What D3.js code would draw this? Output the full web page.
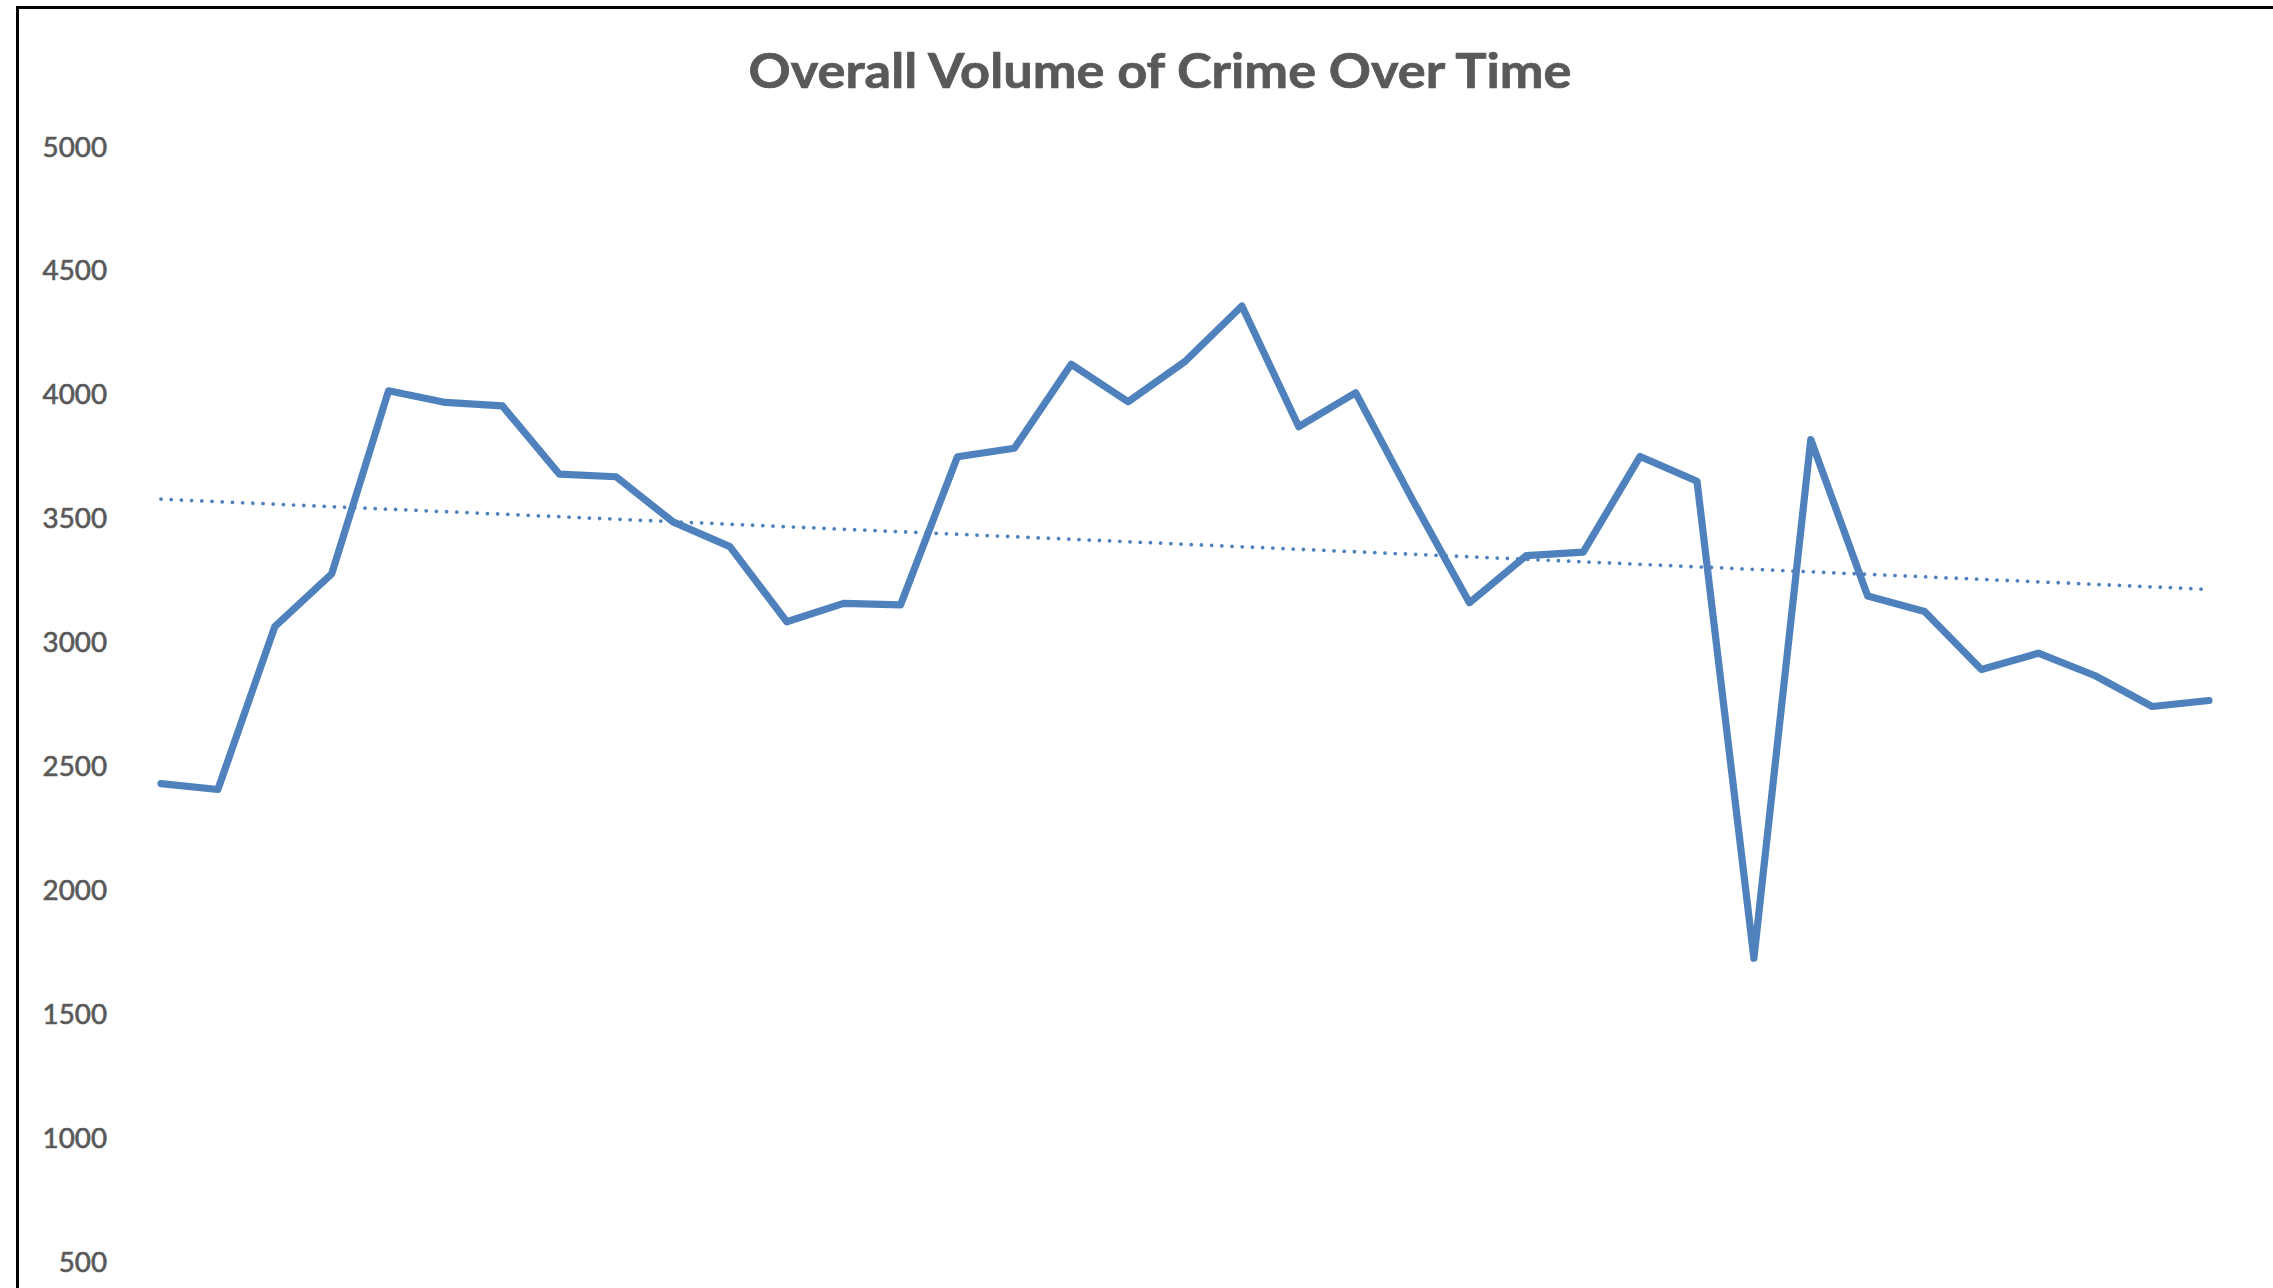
<!DOCTYPE html>
<html>
<head>
<meta charset="utf-8">
<script src="https://cdn.jsdelivr.net/npm/d3@7"></script>
<style>
  html, body { margin: 0; padding: 0; background: #ffffff; }
  svg { display: block; }
</style>
</head>
<body>
<svg id="chart" width="2273" height="1288"></svg>
<script>
// ---- data ----
const title = "Overall Volume of Crime Over Time";
const periods = d3.range(1, 38); // 37 consecutive periods (x axis is not labelled)
const crimeVolume = [
  2430, 2406, 3063, 3276, 4015, 3968, 3954, 3679, 3668, 3486,
  3386, 3083, 3157, 3151, 3749, 3783, 4122, 3971, 4133, 4357,
  3870, 4007, 3575, 3160, 3350, 3364, 3750, 3650, 1725, 3818,
  3187, 3124, 2890, 2956, 2865, 2741, 2765
];
const yTicks = [500, 1000, 1500, 2000, 2500, 3000, 3500, 4000, 4500, 5000];

// ---- layout ----
const W = 2273, H = 1288;
const svg = d3.select("#chart");
svg.append("rect").attr("width", W).attr("height", H).attr("fill", "#ffffff");

// chart frame (extends past the cropped right and bottom edges)
svg.append("rect")
  .attr("x", 17.5).attr("y", 7.5)
  .attr("width", W + 40).attr("height", H + 40)
  .attr("fill", "none").attr("stroke", "#000").attr("stroke-width", 3);

const x = d3.scalePoint().domain(periods).range([161, 2209]);
const y = d3.scaleLinear().domain([0, 5000]).range([1385.7, 146.7]);

// title
svg.append("text")
  .attr("x", 1160).attr("y", 88)
  .attr("text-anchor", "middle")
  .attr("font-family", "Lato, 'Open Sans', 'Liberation Sans', sans-serif")
  .attr("font-weight", "bold")
  .attr("font-size", 48)
  .attr("fill", "#595959")
  .attr("stroke", "#595959")
  .attr("stroke-width", 0.7)
  .attr("textLength", 823)
  .attr("lengthAdjust", "spacingAndGlyphs")
  .text(title);

// y axis (labels only)
const yAxis = d3.axisLeft(y).tickValues(yTicks).tickSize(0).tickPadding(0)
  .tickFormat(d3.format("d"));
const gy = svg.append("g").attr("transform", "translate(107,0)").call(yAxis);
gy.select(".domain").remove();
gy.selectAll("text")
  .attr("font-family", "Lato, 'Open Sans', 'Liberation Sans', sans-serif")
  .attr("font-size", 26)
  .attr("fill", "#595959")
  .attr("stroke", "#595959")
  .attr("stroke-width", 0.6)
  .attr("dy", "0.36em")
  .attr("textLength", d => String(d).length * 16.1)
  .attr("lengthAdjust", "spacingAndGlyphs");

// linear trendline (least squares on the series)
const n = crimeVolume.length;
const idx = d3.range(n);
const mx = d3.mean(idx), my = d3.mean(crimeVolume);
const slope = d3.sum(idx, i => (i - mx) * (crimeVolume[i] - my)) / d3.sum(idx, i => (i - mx) ** 2);
const intercept = my - slope * mx;
const trend = [0, n - 1].map(i => ({ p: periods[i], v: intercept + slope * i }));

const line = d3.line().x(d => x(d.p)).y(d => y(d.v));

// main series
svg.append("path")
  .datum(periods.map((p, i) => ({ p, v: crimeVolume[i] })))
  .attr("d", line)
  .attr("fill", "none")
  .attr("stroke", "#4F81BD")
  .attr("stroke-width", 7.2)
  .attr("stroke-linejoin", "round")
  .attr("stroke-linecap", "round");

// dotted trend
svg.append("path")
  .datum(trend)
  .attr("d", line)
  .attr("fill", "none")
  .attr("stroke", "#4F81BD")
  .attr("stroke-width", 3.8)
  .attr("stroke-linecap", "round")
  .attr("stroke-dasharray", "0.01 10.2");
</script>
</body>
</html>
